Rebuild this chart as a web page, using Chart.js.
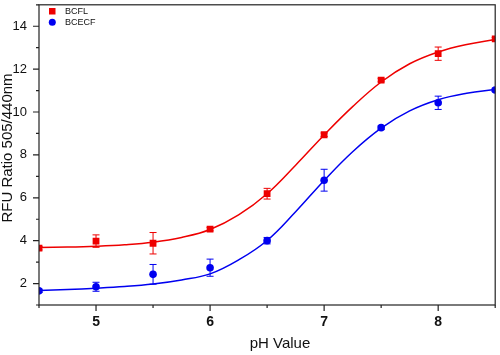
<!DOCTYPE html>
<html>
<head>
<meta charset="utf-8">
<script src="https://cdn.jsdelivr.net/npm/chart.js@4.4.1/dist/chart.umd.min.js"></script>
<style>
html,body{margin:0;padding:0;background:#fff;}
#wrap{width:500px;height:355px;}
</style>
</head>
<body>
<div id="wrap"><canvas id="c" width="500" height="355"></canvas></div>
<script>
// ---- data ----
const phValues = [4.5, 5, 5.5, 6, 6.5, 7, 7.5, 8, 8.5];
const bcflValues = [3.65, 3.98, 3.88, 4.54, 6.19, 8.94, 11.49, 12.72, 13.41];
const bcflErrors = [0.08, 0.29, 0.5, 0.08, 0.25, 0.08, 0.08, 0.31, 0.06];
const bcecfValues = [1.66, 1.85, 2.43, 2.74, 4.0, 6.82, 9.27, 10.43, 11.03];
const bcecfErrors = [0.08, 0.21, 0.46, 0.4, 0.15, 0.51, 0.08, 0.31, 0.08];

// fitted curves
const fitPh = [4.5, 4.75, 5, 5.25, 5.5, 5.75, 6, 6.25, 6.5, 6.75, 7, 7.25, 7.5, 7.75, 8, 8.25, 8.5];
const bcflFit = [3.68, 3.70, 3.74, 3.81, 3.93, 4.15, 4.52, 5.20, 6.19, 7.52, 8.93, 10.25, 11.40, 12.25, 12.80, 13.15, 13.38];
const bcecfFit = [1.68, 1.72, 1.78, 1.86, 1.98, 2.17, 2.45, 3.10, 4.01, 5.35, 6.81, 8.15, 9.25, 10.05, 10.57, 10.87, 11.05];

const xTickLabels = [5, 6, 7, 8];
const xMinorTicks = [4.5, 5.5, 6.5, 7.5, 8.5];
const yTickLabels = [2, 4, 6, 8, 10, 12, 14];
const yMinorTicks = [1, 3, 5, 7, 9, 11, 13, 15];

const seriesNames = ['BCFL', 'BCECF'];
const RED = '#ee0000';
const BLUE = '#0000f0';

const pts = (xs, ys) => xs.map((x, i) => ({x: x, y: ys[i]}));

const errorBars = {
  id: 'errorBars',
  afterDatasetsDraw(chart) {
    const ctx = chart.ctx, xs = chart.scales.x, ys = chart.scales.y, a = chart.chartArea;
    const sets = [[bcflValues, bcflErrors, RED], [bcecfValues, bcecfErrors, BLUE]];
    ctx.save();
    ctx.beginPath();
    ctx.rect(a.left, a.top, a.right - a.left, a.bottom - a.top);
    ctx.clip();
    ctx.lineWidth = 1;
    sets.forEach(([vals, errs, col]) => {
      ctx.strokeStyle = col;
      vals.forEach((v, i) => {
        const px = xs.getPixelForValue(phValues[i]);
        const y1 = ys.getPixelForValue(v + errs[i]);
        const y2 = ys.getPixelForValue(v - errs[i]);
        ctx.beginPath();
        ctx.moveTo(px, y1); ctx.lineTo(px, y2);
        ctx.moveTo(px - 3.5, y1); ctx.lineTo(px + 3.5, y1);
        ctx.moveTo(px - 3.5, y2); ctx.lineTo(px + 3.5, y2);
        ctx.stroke();
      });
    });
    ctx.restore();
  }
};

const frameAndTicks = {
  id: 'frameAndTicks',
  afterDraw(chart) {
    const ctx = chart.ctx, a = chart.chartArea, xs = chart.scales.x, ys = chart.scales.y;
    ctx.save();
    ctx.strokeStyle = '#222';
    ctx.lineWidth = 1.2;
    ctx.strokeRect(a.left, a.top, a.right - a.left, a.bottom - a.top);
    ctx.beginPath();
    yTickLabels.forEach(v => { const p = ys.getPixelForValue(v); ctx.moveTo(a.left - 6, p); ctx.lineTo(a.left, p); });
    yMinorTicks.forEach(v => { const p = ys.getPixelForValue(v); ctx.moveTo(a.left - 3, p); ctx.lineTo(a.left, p); });
    xTickLabels.forEach(v => { const p = xs.getPixelForValue(v); ctx.moveTo(p, a.bottom); ctx.lineTo(p, a.bottom + 6); });
    xMinorTicks.forEach(v => { const p = xs.getPixelForValue(v); ctx.moveTo(p, a.bottom); ctx.lineTo(p, a.bottom + 3); });
    ctx.stroke();

    ctx.fillStyle = '#111';
    ctx.font = '15px "Liberation Sans", Arial, sans-serif';
    ctx.textAlign = 'center';
    ctx.textBaseline = 'middle';
    // x axis title
    ctx.fillText('pH Value', 280, 344);
    // y axis title
    ctx.save();
    ctx.translate(8, 148);
    ctx.rotate(-Math.PI / 2);
    ctx.fillText('RFU Ratio 505/440nm', 0, 0);
    ctx.restore();

    // legend
    ctx.font = '9px "Liberation Sans", Arial, sans-serif';
    ctx.textAlign = 'left';
    ctx.fillStyle = RED;
    ctx.fillRect(49, 8, 6.5, 6.5);
    ctx.fillStyle = BLUE;
    ctx.beginPath(); ctx.arc(52.3, 22.3, 3.5, 0, Math.PI * 2); ctx.fill();
    ctx.fillStyle = '#111';
    ctx.fillText(seriesNames[0], 65, 11.5);
    ctx.fillText(seriesNames[1], 65, 22.5);
    ctx.restore();
  }
};

new Chart(document.getElementById('c'), {
  type: 'scatter',
  data: {
    datasets: [
      { label: seriesNames[0] + ' fit', type: 'line', data: pts(fitPh, bcflFit), borderColor: RED, borderWidth: 1.5,
        pointRadius: 0, tension: 0.4, fill: false, order: 3 },
      { label: seriesNames[1] + ' fit', type: 'line', data: pts(fitPh, bcecfFit), borderColor: BLUE, borderWidth: 1.5,
        pointRadius: 0, tension: 0.4, fill: false, order: 3 },
      { label: seriesNames[0], data: pts(phValues, bcflValues), pointStyle: 'rect', pointRadius: 4.8,
        backgroundColor: RED, borderColor: RED, borderWidth: 0, order: 1, clip: 0 },
      { label: seriesNames[1], data: pts(phValues, bcecfValues), pointStyle: 'circle', pointRadius: 3.8,
        backgroundColor: BLUE, borderColor: BLUE, borderWidth: 0, order: 1, clip: 0 }
    ]
  },
  options: {
    responsive: false,
    animation: false,
    layout: { padding: { top: 2, right: 2, left: 0, bottom: 0 } },
    plugins: { legend: { display: false }, tooltip: { enabled: false } },
    scales: {
      x: {
        type: 'linear', min: 4.5, max: 8.5,
        afterBuildTicks: s => { s.ticks = xTickLabels.map(v => ({value: v})); },
        afterFit: s => { s.height = 50; s.paddingLeft = 0; s.paddingRight = 0; },
        grid: { display: false, drawTicks: false },
        border: { display: false },
        ticks: { color: '#111', padding: 9, font: { size: 14, weight: 'bold', family: '"Liberation Sans", Arial, sans-serif' } }
      },
      y: {
        type: 'linear', min: 1, max: 15,
        afterBuildTicks: s => { s.ticks = yTickLabels.map(v => ({value: v})); },
        afterFit: s => { s.width = 39; s.paddingTop = 0; s.paddingBottom = 0; },
        grid: { display: false, drawTicks: false },
        border: { display: false },
        ticks: { color: '#111', padding: 12, font: { size: 13, family: '"Liberation Sans", Arial, sans-serif' } }
      }
    }
  },
  plugins: [errorBars, frameAndTicks]
});
</script>
</body>
</html>
